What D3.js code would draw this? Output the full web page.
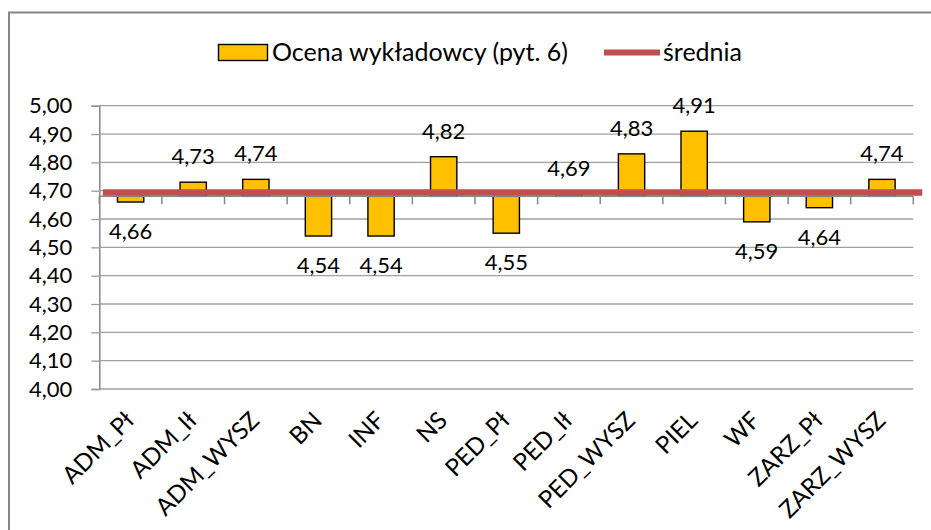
<!DOCTYPE html>
<html><head><meta charset="utf-8">
<script src="https://cdn.jsdelivr.net/npm/d3@7/dist/d3.min.js"></script>
<style>
html,body{margin:0;padding:0;background:#fff;}
text{font-family:Lato,"Open Sans",sans-serif;fill:#000;}
</style></head>
<body>
<svg id="chart" width="931" height="530"></svg>
<script>
const categories = ["ADM_Pł","ADM_Ił","ADM_WYSZ","BN","INF","NS","PED_Pł","PED_Ił","PED_WYSZ","PIEL","WF","ZARZ_Pł","ZARZ_WYSZ"];
const values = [4.66,4.73,4.74,4.54,4.54,4.82,4.55,4.69,4.83,4.91,4.59,4.64,4.74];
const meanValue = 4.694;
const axisCross = 4.68;
const yTicks = [4.0,4.1,4.2,4.3,4.4,4.5,4.6,4.7,4.8,4.9,5.0];
const seriesName = "Ocena wykładowcy (pyt. 6)";
const meanName = "średnia";

const svg = d3.select("#chart");
const fsNum = 22, fsCat = 24, fsLeg = 25;
const fmt = v => d3.format(".2f")(v).replace(".", ",");

const x = d3.scaleBand().domain(categories).range([99.3, 913.3]).padding(0);
const y = d3.scaleLinear().domain([4, 5]).range([389, 105.7]);

// outer border
svg.append("path").attr("d","M9,540 L9,12.5 L940,12.5").attr("fill","none").attr("stroke","#868686").attr("stroke-width",2);

// gridlines + y axis
const yAxis = d3.axisLeft(y).tickValues(yTicks).tickSize(8).tickFormat(fmt);
const gy = svg.append("g").attr("transform","translate(99.3,0)").call(yAxis);
gy.select(".domain").attr("stroke","#868686").attr("stroke-width",1.5);
gy.selectAll(".tick line").attr("stroke","#9a9a9a").attr("stroke-width",1.3);
gy.selectAll(".tick text").attr("x",-27).attr("font-size",fsNum).attr("font-family","Lato, 'Open Sans', sans-serif").attr("fill","#000");

svg.append("g").selectAll("line").data(yTicks).join("line")
  .attr("x1",99.3).attr("x2",913.3)
  .attr("y1",d=>y(d)).attr("y2",d=>y(d))
  .attr("stroke","#a0a0a0").attr("stroke-width",1.3);

// bars
const bw = x.bandwidth()*0.42;
svg.append("g").selectAll("rect").data(values).join("rect")
  .attr("x",(d,i)=>x(categories[i])+x.bandwidth()/2-bw/2)
  .attr("width",bw)
  .attr("y",d=>Math.min(y(d),y(axisCross)))
  .attr("height",d=>Math.abs(y(d)-y(axisCross)))
  .attr("fill","#FFC000").attr("stroke","#000").attr("stroke-width",1.4);

// category axis line at crossing
const y0 = y(axisCross);
svg.append("line").attr("x1",99.3).attr("x2",913.3).attr("y1",y0).attr("y2",y0)
  .attr("stroke","#868686").attr("stroke-width",1.5);
const bounds = categories.map(c=>x(c)).concat([x.range()[1]]);
svg.append("g").selectAll("line").data(bounds).join("line")
  .attr("x1",d=>d).attr("x2",d=>d).attr("y1",y0).attr("y2",y0+8)
  .attr("stroke","#868686").attr("stroke-width",1.5);

// mean line
svg.append("line").attr("x1",x.range()[0]+3.5).attr("x2",x.range()[1]+9)
  .attr("y1",y(meanValue)).attr("y2",y(meanValue))
  .attr("stroke","#C0504D").attr("stroke-width",6.5);

// data labels
svg.append("g").selectAll("text").data(values).join("text")
  .attr("x",(d,i)=>x(categories[i])+x.bandwidth()/2)
  .attr("y",d=> d>=axisCross ? y(d)-18 : y(d)+37)
  .attr("text-anchor","middle").attr("font-size",fsNum)
  .text(d=>fmt(d));

// category labels
svg.append("g").selectAll("text").data(categories).join("text")
  .attr("transform",d=>`translate(${x(d)+x.bandwidth()/2-1},416) rotate(-45)`)
  .attr("text-anchor","end").attr("dy","0.35em").attr("font-size",fsCat)
  .text(d=>d);

// legend
const lg = svg.append("g");
lg.append("rect").attr("x",218.5).attr("y",44.5).attr("width",49).attr("height",16)
  .attr("fill","#FFC000").attr("stroke","#000").attr("stroke-width",1.4);
lg.append("text").attr("x",272).attr("y",52.5).attr("dy","0.35em").attr("font-size",fsLeg).text(seriesName);
lg.append("line").attr("x1",604).attr("x2",660).attr("y1",52.5).attr("y2",52.5)
  .attr("stroke","#C0504D").attr("stroke-width",6);
lg.append("text").attr("x",663).attr("y",52.5).attr("dy","0.35em").attr("font-size",fsLeg).text(meanName);
</script>
</body></html>
